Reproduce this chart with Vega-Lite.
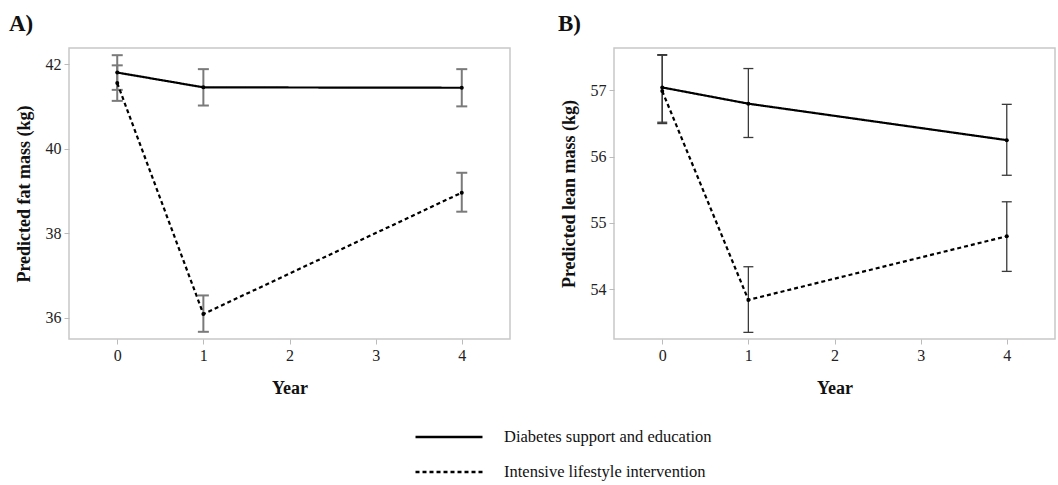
{
  "$schema": "https://vega.github.io/schema/vega-lite/v6.json",
  "background": "white",
  "padding": {"left": 8, "top": 12, "right": 0, "bottom": 0},
  "config": {
    "font": "Liberation Serif",
    "view": {"stroke": "#c8c8c8", "strokeWidth": 1.5},
    "axis": {
      "labelFont": "Liberation Serif", "labelFontSize": 16, "labelColor": "#222",
      "titleFont": "Liberation Serif", "titleFontWeight": "bold", "titleFontSize": 18, "titleColor": "#111",
      "domain": false, "grid": false, "tickColor": "#bbbbbb", "tickSize": 5, "labelPadding": 3
    },
    "title": {"font": "Liberation Serif", "fontSize": 23, "fontWeight": "bold", "color": "#111", "anchor": "start", "offset": 12}
  },
  "data": {
    "values": [
      {"panel": "A", "group": "Diabetes support and education", "year": 0, "mean": 41.80, "lo": 41.39, "hi": 42.21},
      {"panel": "A", "group": "Diabetes support and education", "year": 1, "mean": 41.45, "lo": 41.02, "hi": 41.88},
      {"panel": "A", "group": "Diabetes support and education", "year": 4, "mean": 41.44, "lo": 41.00, "hi": 41.88},
      {"panel": "A", "group": "Intensive lifestyle intervention", "year": 0, "mean": 41.55, "lo": 41.13, "hi": 41.97},
      {"panel": "A", "group": "Intensive lifestyle intervention", "year": 1, "mean": 36.09, "lo": 35.67, "hi": 36.53},
      {"panel": "A", "group": "Intensive lifestyle intervention", "year": 4, "mean": 38.96, "lo": 38.51, "hi": 39.43},
      {"panel": "B", "group": "Diabetes support and education", "year": 0, "mean": 57.045, "lo": 56.50, "hi": 57.54},
      {"panel": "B", "group": "Diabetes support and education", "year": 1, "mean": 56.80, "lo": 56.29, "hi": 57.33},
      {"panel": "B", "group": "Diabetes support and education", "year": 4, "mean": 56.25, "lo": 55.72, "hi": 56.79},
      {"panel": "B", "group": "Intensive lifestyle intervention", "year": 0, "mean": 56.99, "lo": 56.52, "hi": 57.53},
      {"panel": "B", "group": "Intensive lifestyle intervention", "year": 1, "mean": 53.84, "lo": 53.35, "hi": 54.34},
      {"panel": "B", "group": "Intensive lifestyle intervention", "year": 4, "mean": 54.80, "lo": 54.27, "hi": 55.32}
    ]
  },
  "spacing": 46,
  "resolve": {"scale": {"strokeDash": "shared"}, "legend": {"strokeDash": "shared"}},
  "hconcat": [
    {
      "title": {"text": "A)", "dx": -6},
      "width": 441, "height": 291,
      "transform": [{"filter": "datum.panel == 'A'"}],
      "encoding": {
        "x": {"field": "year", "type": "quantitative", "scale": {"domain": [-0.56, 4.56], "nice": false, "zero": false},
              "axis": {"values": [0, 1, 2, 3, 4], "format": "d", "title": "Year", "titlePadding": 16}}
      },
      "layer": [
        {"mark": {"type": "rule", "color": "#7a7a7a", "strokeWidth": 2},
         "encoding": {
           "y": {"field": "lo", "type": "quantitative", "title": "Predicted fat mass (kg)",
                 "scale": {"domain": [35.5, 42.38], "nice": false, "zero": false},
                 "axis": {"values": [36, 38, 40, 42], "format": "d", "titlePadding": 12}},
           "y2": {"field": "hi"}}},
        {"mark": {"type": "tick", "orient": "horizontal", "size": 11, "thickness": 2, "color": "#7a7a7a", "opacity": 1},
         "encoding": {"y": {"field": "lo", "type": "quantitative", "title": "Predicted fat mass (kg)"}}},
        {"mark": {"type": "tick", "orient": "horizontal", "size": 11, "thickness": 2, "color": "#7a7a7a", "opacity": 1},
         "encoding": {"y": {"field": "hi", "type": "quantitative", "title": "Predicted fat mass (kg)"}}},
        {"mark": {"type": "line", "color": "black", "strokeWidth": 2.2},
         "encoding": {
           "y": {"field": "mean", "type": "quantitative", "title": "Predicted fat mass (kg)"},
           "strokeDash": {"field": "group", "type": "nominal",
             "scale": {"domain": ["Diabetes support and education", "Intensive lifestyle intervention"], "range": [[1, 0], [4, 3]]},
             "legend": {"orient": "none", "legendX": 362, "legendY": 371, "title": null, "direction": "vertical",
               "symbolType": "M-2,0H2", "symbolSize": 1122, "symbolStrokeWidth": 2.5, "symbolStrokeColor": "black", "symbolFillColor": "transparent",
               "labelFont": "Liberation Serif", "labelFontSize": 16.5, "labelColor": "#111", "labelOffset": 37, "labelLimit": 0, "rowPadding": 8}}}},
        {"mark": {"type": "circle", "size": 16, "color": "black", "opacity": 1},
         "encoding": {"y": {"field": "mean", "type": "quantitative", "title": "Predicted fat mass (kg)"}}}
      ]
    },
    {
      "title": {"text": "B)", "dx": -2},
      "width": 441, "height": 291,
      "transform": [{"filter": "datum.panel == 'B'"}],
      "encoding": {
        "x": {"field": "year", "type": "quantitative", "scale": {"domain": [-0.56, 4.56], "nice": false, "zero": false},
              "axis": {"values": [0, 1, 2, 3, 4], "format": "d", "title": "Year", "titlePadding": 16}}
      },
      "layer": [
        {"mark": {"type": "rule", "color": "#3a3a3a", "strokeWidth": 1.3},
         "encoding": {
           "y": {"field": "lo", "type": "quantitative", "title": "Predicted lean mass (kg)",
                 "scale": {"domain": [53.25, 57.64], "nice": false, "zero": false},
                 "axis": {"values": [54, 55, 56, 57], "format": "d", "titlePadding": 12}},
           "y2": {"field": "hi"}}},
        {"mark": {"type": "tick", "orient": "horizontal", "size": 10, "thickness": 1.3, "color": "#3a3a3a", "opacity": 1},
         "encoding": {"y": {"field": "lo", "type": "quantitative", "title": "Predicted lean mass (kg)"}}},
        {"mark": {"type": "tick", "orient": "horizontal", "size": 10, "thickness": 1.3, "color": "#3a3a3a", "opacity": 1},
         "encoding": {"y": {"field": "hi", "type": "quantitative", "title": "Predicted lean mass (kg)"}}},
        {"mark": {"type": "line", "color": "black", "strokeWidth": 2.2},
         "encoding": {
           "y": {"field": "mean", "type": "quantitative", "title": "Predicted lean mass (kg)"},
           "strokeDash": {"field": "group", "type": "nominal"}}},
        {"mark": {"type": "circle", "size": 16, "color": "black", "opacity": 1},
         "encoding": {"y": {"field": "mean", "type": "quantitative", "title": "Predicted lean mass (kg)"}}}
      ]
    }
  ]
}
